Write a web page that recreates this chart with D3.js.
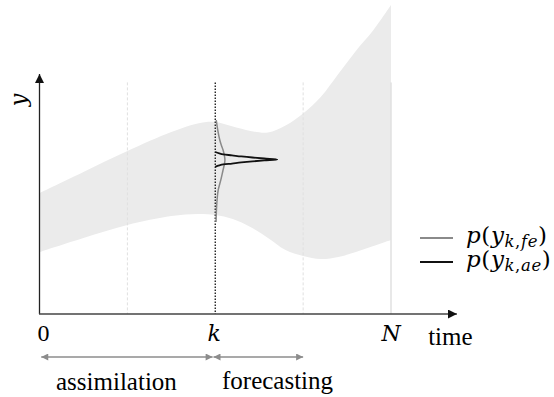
<!DOCTYPE html>
<html>
<head>
<meta charset="utf-8">
<script src="https://cdn.jsdelivr.net/npm/d3@7/dist/d3.min.js"></script>
<style>
  html, body { margin: 0; padding: 0; background: #fff; }
  svg { display: block; }
</style>
</head>
<body>
<svg id="chart" width="554" height="397"></svg>
<script>
// ---------- data ----------
const bandTime  = [0, 0.5, 1, 1.5, 1.8, 2, 2.2, 2.4, 2.6, 2.8, 3, 3.2, 3.4, 3.6, 3.8, 4];
const bandUpper = [50.4, 59.2, 67.9, 75.8, 79.4, 80.0, 78.1, 76.3, 75.6, 78.5, 83.5, 90.4, 100, 109.6, 118.3, 128.75];
const bandLower = [25.8, 31.7, 37.1, 40.8, 41.7, 41.25, 39.6, 36.25, 31.7, 26.7, 24.2, 22.9, 23.75, 25.8, 28.3, 30.8];

const kTime = 2;
const feY       = [80.8, 76.7, 72.5, 70.4, 68.3, 66.25, 64.2, 62.1, 60.0, 55.8, 51.7, 47.5, 43.3, 38.3];
const feDensity = [0.016, 0.04, 0.073, 0.097, 0.126, 0.145, 0.156, 0.145, 0.126, 0.089, 0.048, 0.029, 0.019, 0.013];
const aeY       = [67.5, 66.9, 66.5, 66.1, 65.65, 65.2, 64.8, 64.4, 64.0, 63.6, 63.15, 62.7, 62.3, 61.9, 61.3];
const aeDensity = [0, 0.065, 0.13, 0.27, 0.42, 0.6, 0.79, 1.0, 0.79, 0.6, 0.42, 0.27, 0.13, 0.065, 0];

const tickValues = [0, 2, 4];
const tickLabels = ["0", "k", "N"];
const gridTimes  = [1, 3];
const phaseLabels = ["assimilation", "forecasting"];
const phaseSpans  = [[0.02, 1.97], [1.98, 3.0]];

const SERIF = "Liberation Serif, Times New Roman, serif";
const MATH = "DejaVu Serif, Liberation Serif, serif";

// ---------- scales ----------
const svg = d3.select("#chart");
const x = d3.scaleLinear().domain([0, 4]).range([39.5, 391]);
const y = d3.scaleLinear().domain([0, 100]).range([314, 74]);
const dens = d3.scaleLinear().domain([0, 1]).range([0, 62]);

const defs = svg.append("defs");
function marker(id, color, w, h) {
  defs.append("marker").attr("id", id)
    .attr("viewBox", "0 0 10 10").attr("refX", 10).attr("refY", 5)
    .attr("markerUnits", "userSpaceOnUse")
    .attr("markerWidth", w).attr("markerHeight", h)
    .attr("orient", "auto-start-reverse")
    .append("path").attr("d", "M0,0 L10,5 L0,10 Z").attr("fill", color);
}
marker("arrBlack", "#111", 9, 9);
marker("arrGray", "#8c8c8c", 9, 7);

// ---------- band ----------
const bandData = bandTime.map((t, i) => ({ t, lo: bandLower[i], hi: bandUpper[i] }));
svg.append("path")
  .datum(bandData)
  .attr("fill", "#ebebeb")
  .attr("d", d3.area().curve(d3.curveCatmullRom.alpha(0.5))
    .x(d => x(d.t)).y0(d => y(d.lo)).y1(d => y(d.hi)));

// ---------- grid lines ----------
const gridTop = 96.5;
svg.selectAll(".grid").data(gridTimes).enter().append("line")
  .attr("x1", d => x(d)).attr("x2", d => x(d))
  .attr("y1", y(gridTop)).attr("y2", y(0))
  .attr("stroke", "#e0e0e0").attr("stroke-width", 1)
  .attr("stroke-dasharray", "3,2");
svg.append("line")
  .attr("x1", x(4)).attr("x2", x(4))
  .attr("y1", y(gridTop)).attr("y2", y(0))
  .attr("stroke", "#e0e0e0").attr("stroke-width", 1.5);
svg.append("line")
  .attr("x1", x(kTime)).attr("x2", x(kTime))
  .attr("y1", y(gridTop)).attr("y2", y(0))
  .attr("stroke", "#111").attr("stroke-width", 1.3)
  .attr("stroke-dasharray", "1.5,1.5");

// ---------- densities ----------
const densLine = d3.line().curve(d3.curveMonotoneY)
  .x(d => x(kTime) + dens(d.v)).y(d => y(d.y));
svg.append("path")
  .datum(feY.map((v, i) => ({ y: v, v: feDensity[i] })))
  .attr("fill", "none").attr("stroke", "#8a8a8a").attr("stroke-width", 1.5)
  .attr("d", densLine);
svg.append("path")
  .datum(aeY.map((v, i) => ({ y: v, v: aeDensity[i] })))
  .attr("fill", "none").attr("stroke", "#111").attr("stroke-width", 1.8)
  .attr("stroke-linejoin", "round")
  .attr("d", densLine);

// ---------- axes ----------
svg.append("line")
  .attr("x1", x(0)).attr("x2", x(0))
  .attr("y1", y(0)).attr("y2", y(100))
  .attr("stroke", "#222").attr("stroke-width", 1.3)
  .attr("marker-end", "url(#arrBlack)");
svg.append("line")
  .attr("x1", x(0) - 0.5).attr("x2", x(4.75))
  .attr("y1", y(0)).attr("y2", y(0))
  .attr("stroke", "#444").attr("stroke-width", 1.5)
  .attr("marker-end", "url(#arrBlack)");

const xAxis = d3.axisBottom(x).tickValues(tickValues)
  .tickFormat((d, i) => tickLabels[i]).tickSize(0).tickPadding(0);
const gx = svg.append("g").attr("transform", `translate(0,${y(0)})`).call(xAxis);
gx.attr("font-family", null).attr("font-size", null);
gx.select(".domain").remove();
gx.selectAll(".tick text")
  .attr("dy", null).attr("y", 27)
  .attr("fill", "#000")
  .attr("font-family", (d, i) => i === 0 ? SERIF : MATH)
  .attr("font-style", (d, i) => i === 0 ? "normal" : "italic")
  .attr("font-size", (d, i) => i === 0 ? 24 : 22)
  .attr("dx", (d, i) => [3.5, -1.5, -0.5][i]);

svg.append("text").attr("font-family", SERIF).attr("font-size", 25)
  .attr("x", x(4.4) + 2).attr("y", y(0) + 31)
  .text("time");

svg.append("text").attr("font-family", MATH).attr("font-style", "italic").attr("font-size", 22)
  .attr("transform", `translate(26,100) rotate(-90)`)
  .attr("text-anchor", "middle")
  .text("y");

// ---------- phase arrows ----------
const arrowY = 357;
phaseSpans.forEach((s, i) => {
  svg.append("line")
    .attr("x1", x(s[0])).attr("x2", x(s[1]))
    .attr("y1", arrowY).attr("y2", arrowY)
    .attr("stroke", "#8c8c8c").attr("stroke-width", 1.3)
    .attr("marker-start", "url(#arrGray)")
    .attr("marker-end", "url(#arrGray)");
});
svg.append("text").attr("font-family", SERIF).attr("font-size", 25)
  .attr("x", 56).attr("y", 390).text(phaseLabels[0]);
svg.append("text").attr("font-family", SERIF).attr("font-size", 25)
  .attr("x", 222).attr("y", 389).text(phaseLabels[1]);

// ---------- legend ----------
const legend = [
  { color: "#8a8a8a", sub: "k,fe", yy: 238 },
  { color: "#111", sub: "k,ae", yy: 262 }
];
legend.forEach(L => {
  svg.append("line").attr("x1", 420).attr("x2", 453)
    .attr("y1", L.yy).attr("y2", L.yy)
    .attr("stroke", L.color).attr("stroke-width", 2);
  const t = svg.append("text").attr("font-family", MATH).attr("font-size", 23)
    .attr("letter-spacing", 0.6)
    .attr("x", 466).attr("y", L.yy + 5);
  t.append("tspan").attr("font-style", "italic").text("p");
  t.append("tspan").text("(");
  t.append("tspan").attr("font-style", "italic").text("y");
  const parts = L.sub.split(",");
  t.append("tspan").attr("dy", 4).attr("font-size", 16.5).attr("font-style", "italic").text(parts[0]);
  t.append("tspan").attr("font-size", 16.5).text(",");
  t.append("tspan").attr("font-size", 16.5).attr("font-style", "italic").text(parts[1]);
  t.append("tspan").attr("dy", -4).text(")");
});
</script>
</body>
</html>
